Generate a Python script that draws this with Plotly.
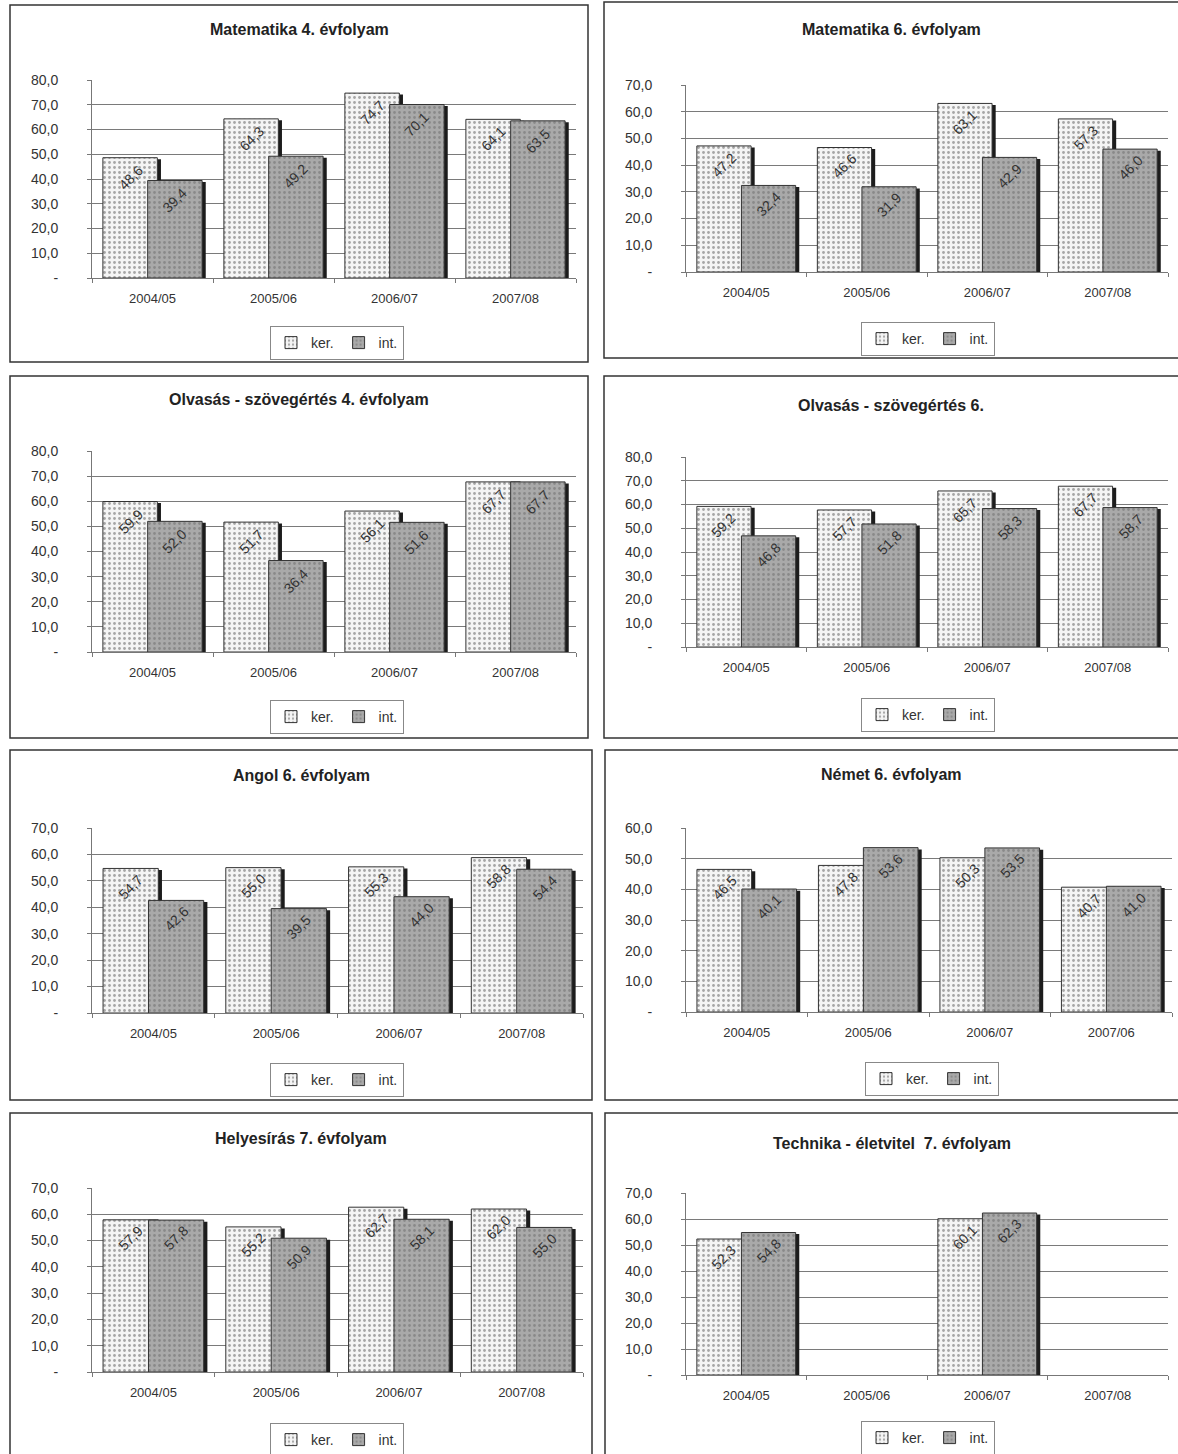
import plotly.graph_objects as go

W, H = 1178, 1454

categories = ["2004/05", "2005/06", "2006/07", "2007/08"]
categories_nemet = ["2004/05", "2005/06", "2006/07", "2007/06"]

titles = [
    "Matematika 4. évfolyam",
    "Matematika 6. évfolyam",
    "Olvasás - szövegértés 4. évfolyam",
    "Olvasás - szövegértés 6.",
    "Angol 6. évfolyam",
    "Német 6. évfolyam",
    "Helyesírás 7. évfolyam",
    "Technika - életvitel  7. évfolyam",
]

ker_mat4 = [48.6, 64.3, 74.7, 64.1]
int_mat4 = [39.4, 49.2, 70.1, 63.5]
ker_mat6 = [47.2, 46.6, 63.1, 57.3]
int_mat6 = [32.4, 31.9, 42.9, 46.0]
ker_olv4 = [59.9, 51.7, 56.1, 67.7]
int_olv4 = [52.0, 36.4, 51.6, 67.7]
ker_olv6 = [59.2, 57.7, 65.7, 67.7]
int_olv6 = [46.8, 51.8, 58.3, 58.7]
ker_angol = [54.7, 55.0, 55.3, 58.8]
int_angol = [42.6, 39.5, 44.0, 54.4]
ker_nemet = [46.5, 47.8, 50.3, 40.7]
int_nemet = [40.1, 53.6, 53.5, 41.0]
ker_helyes = [57.9, 55.2, 62.7, 62.0]
int_helyes = [57.8, 50.9, 58.1, 55.0]
ker_tech = [52.3, None, 60.1, None]
int_tech = [54.8, None, 62.3, None]

y_max = [80, 70, 80, 80, 70, 60, 70, 70]

ker_all = [ker_mat4, ker_mat6, ker_olv4, ker_olv6, ker_angol, ker_nemet, ker_helyes, ker_tech]
int_all = [int_mat4, int_mat6, int_olv4, int_olv6, int_angol, int_nemet, int_helyes, int_tech]
cats_all = [categories, categories, categories, categories, categories, categories_nemet, categories, categories]

# layout geometry (pixels): panel box, plot area, title y, legend position
panels = [
    dict(box=(10, 5, 588, 362), plot=(92, 80, 576, 278), ty=30, leg=(337, 343)),
    dict(box=(604, 2, 1185, 358), plot=(686, 85, 1168, 272), ty=30, leg=(928, 339)),
    dict(box=(10, 376, 588, 738), plot=(92, 451, 576, 652), ty=400, leg=(337, 717)),
    dict(box=(604, 376, 1185, 738), plot=(686, 457, 1168, 647), ty=405, leg=(928, 715)),
    dict(box=(10, 750, 592, 1100), plot=(92, 828, 583, 1013), ty=775, leg=(337, 1080)),
    dict(box=(605, 750, 1185, 1100), plot=(686, 828, 1172, 1012), ty=774, leg=(932, 1079)),
    dict(box=(10, 1113, 592, 1460), plot=(92, 1188, 583, 1372), ty=1138, leg=(337, 1440)),
    dict(box=(605, 1113, 1185, 1460), plot=(686, 1193, 1168, 1375), ty=1143, leg=(928, 1438)),
]

FONT = "Liberation Sans, Arial, sans-serif"

def fmt(v):
    return "" if v is None else f"{v:.1f}".replace(".", ",")

fig = go.Figure()
layout = dict(
    width=W, height=H, margin=dict(l=0, r=0, t=0, b=0, autoexpand=False),
    paper_bgcolor="white", plot_bgcolor="white",
    barmode="overlay", font=dict(family=FONT, color="#222"),
    shapes=[], annotations=[],
)

BW = 0.45
SH = 0.03
for k, p in enumerate(panels):
    n = k + 1
    xa = "x" if n == 1 else f"x{n}"
    ya = "y" if n == 1 else f"y{n}"
    lg = "legend" if n == 1 else f"legend{n}"
    xs = list(range(len(cats_all[k])))
    ker, inn = ker_all[k], int_all[k]
    ym = y_max[k]
    for vals, off, col, fg, name in [
        (ker, -0.41, "#f4f4f4", "#555555", "ker."),
        (inn, -0.04, "#a9a9a9", "#6a6a6a", "int."),
    ]:
        fig.add_trace(go.Bar(
            x=xs, y=[None if v is None else v - 0.6 for v in vals],
            width=BW, offset=off + SH, marker=dict(color="#1c1c1c", line=dict(width=0)),
            showlegend=False, hoverinfo="skip", xaxis=xa, yaxis=ya,
        ))
        fig.add_trace(go.Bar(
            x=xs, y=vals, width=BW, offset=off, name=name,
            marker=dict(color=col, line=dict(color="#333", width=1),
                        pattern=dict(shape=".", fgcolor=fg, bgcolor=col, size=5, solidity=0.25)),
            xaxis=xa, yaxis=ya, legend=lg,
        ))
        for xi, v in zip(xs, vals):
            if v is None:
                continue
            layout["annotations"].append(dict(
                x=xi + off + BW / 2, y=v - 0.1 * ym, xref=xa, yref=ya,
                text=fmt(v), textangle=-45, showarrow=False,
                xanchor="center", yanchor="middle",
                font=dict(size=14, color="#333", family=FONT),
            ))
    x0, y0, x1, y1 = p["plot"]
    layout[f"xaxis{'' if n == 1 else n}"] = dict(
        domain=[x0 / W, x1 / W], anchor=ya, range=[-0.5, 3.5],
        tickvals=xs, ticktext=cats_all[k], ticks="outside", ticklen=8,
        tickcolor="rgba(0,0,0,0)", showline=True, linecolor="#777", linewidth=1,
        showgrid=False, zeroline=False, fixedrange=True,
        tickfont=dict(size=13, color="#333"),
        minor=dict(tick0=-0.5, dtick=1, ticks="outside", ticklen=4, tickcolor="#777"),
    )
    tv = list(range(0, ym + 1, 10))
    layout[f"yaxis{'' if n == 1 else n}"] = dict(
        domain=[1 - y1 / H, 1 - y0 / H], anchor=xa, range=[0, ym],
        tickvals=tv, ticktext=["-"] + [f"{v},0" for v in tv[1:]],
        ticks="outside", ticklen=4, tickcolor="#777", ticklabelstandoff=26,
        showline=True, linecolor="#777", linewidth=1,
        showgrid=True, gridcolor="#7a7a7a", gridwidth=1, zeroline=False,
        fixedrange=True, tickfont=dict(size=14, color="#333"),
    )
    bx0, by0, bx1, by1 = p["box"]
    layout["shapes"].append(dict(type="rect", xref="paper", yref="paper",
                                 x0=bx0 / W, x1=bx1 / W, y0=1 - by1 / H, y1=1 - by0 / H,
                                 line=dict(color="#333", width=1.5)))
    layout["annotations"].append(dict(
        text=f"<b>{titles[k]}</b>", xref="paper", yref="paper",
        x=((bx0 + min(bx1, W)) / 2) / W, y=1 - p["ty"] / H,
        xanchor="center", yanchor="middle", showarrow=False,
        font=dict(size=16, color="#222", family=FONT),
    ))
    lx, ly = p["leg"]
    layout[lg] = dict(
        x=lx / W, y=1 - ly / H, xanchor="center", yanchor="middle",
        orientation="h", bordercolor="#888", borderwidth=1, bgcolor="white",
        font=dict(size=14, color="#333", family=FONT), itemwidth=30,
        tracegroupgap=0, itemclick=False,
    )

fig.update_layout(**layout)
fig.write_html("out.html", post_script="document.body.style.margin='0';",
               config={"displayModeBar": False})
